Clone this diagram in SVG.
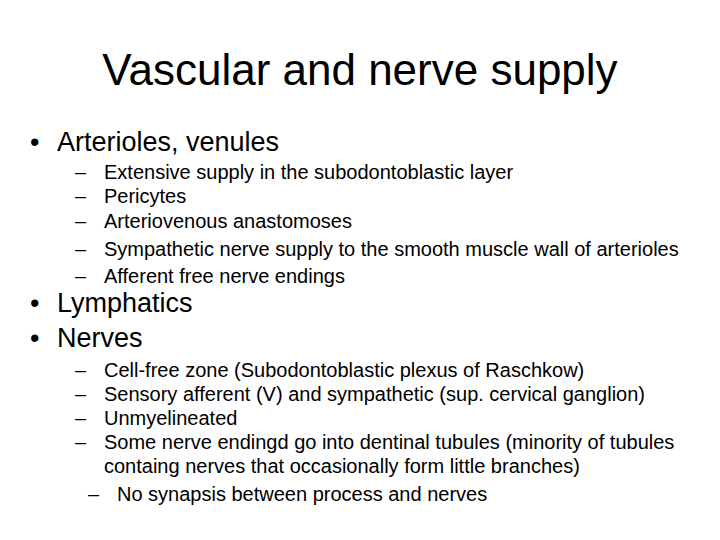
<svg xmlns="http://www.w3.org/2000/svg" width="720" height="540" viewBox="0 0 720 540">
<style>
text{font-family:"Liberation Sans",Arial,sans-serif;fill:#000}
.t{font-size:44px}
.b{font-size:27px}
.s{font-size:20px}
</style>
<rect width="720" height="540" fill="#fff"/>
<g id="title"><text class="t" x="360" y="85" text-anchor="middle">Vascular and nerve supply</text></g>
<g id="body">
<text class="b" x="30" y="151">•</text><text class="b" x="57" y="151">Arterioles, venules</text>
<text class="s" x="75" y="179">–</text><text class="s" x="104" y="179">Extensive supply in the subodontoblastic layer</text>
<text class="s" x="75" y="203">–</text><text class="s" x="104" y="203">Pericytes</text>
<text class="s" x="75" y="228">–</text><text class="s" x="104" y="228">Arteriovenous anastomoses</text>
<text class="s" x="75" y="256">–</text><text class="s" x="104" y="256">Sympathetic nerve supply to the smooth muscle wall of arterioles</text>
<text class="s" x="75" y="283">–</text><text class="s" x="104" y="283">Afferent free nerve endings</text>
<text class="b" x="30" y="312">•</text><text class="b" x="57" y="312">Lymphatics</text>
<text class="b" x="30" y="347">•</text><text class="b" x="57" y="347">Nerves</text>
<text class="s" x="75" y="377">–</text><text class="s" x="104" y="377">Cell-free zone (Subodontoblastic plexus of Raschkow)</text>
<text class="s" x="75" y="401">–</text><text class="s" x="104" y="401">Sensory afferent (V) and sympathetic (sup. cervical ganglion)</text>
<text class="s" x="75" y="425">–</text><text class="s" x="104" y="425">Unmyelineated</text>
<text class="s" x="75" y="449">–</text><text class="s" x="104" y="449">Some nerve endingd go into dentinal tubules (minority of tubules</text>
<text class="s" x="104" y="473">containg nerves that occasionally form little branches)</text>
<text class="s" x="88" y="501">–</text><text class="s" x="117" y="501">No synapsis between process and nerves</text>
</g>
</svg>
